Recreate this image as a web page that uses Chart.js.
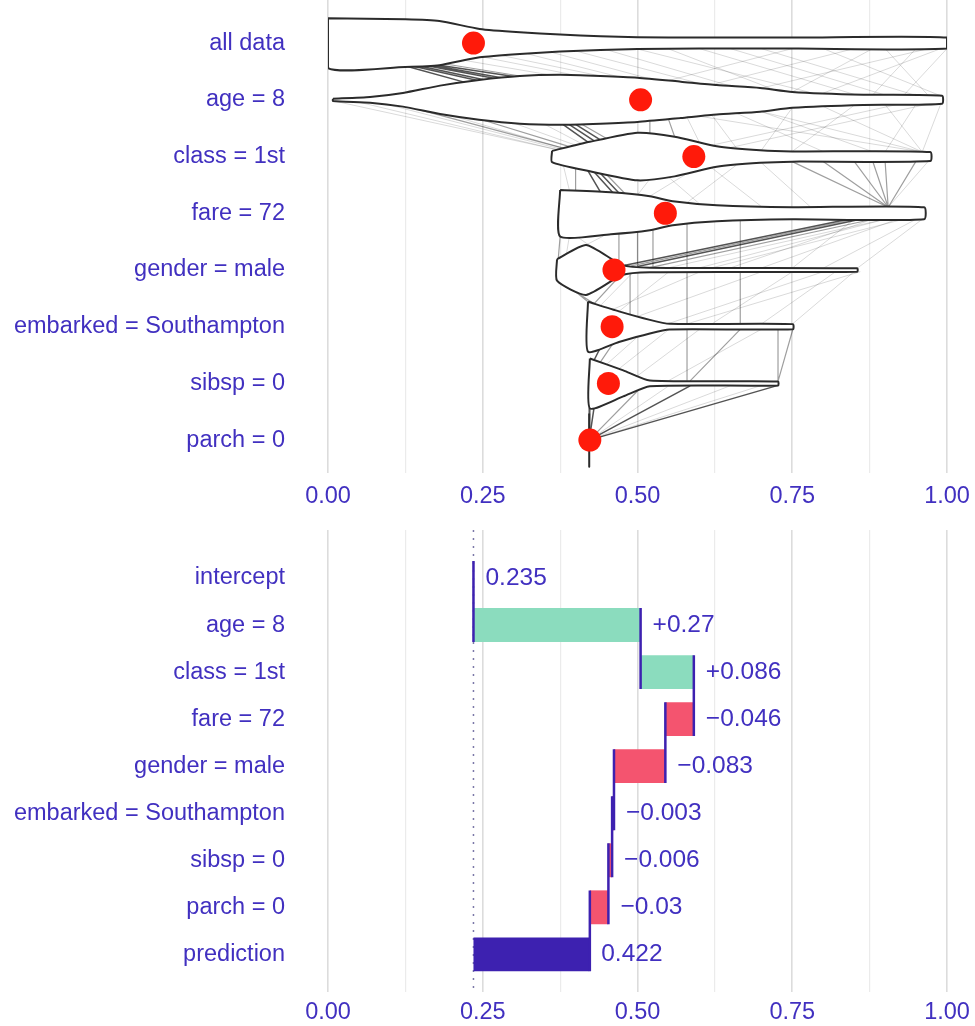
<!DOCTYPE html>
<html>
<head>
<meta charset="utf-8">
<script src="https://cdn.jsdelivr.net/npm/chart.js@4.4.1/dist/chart.umd.min.js"></script>
<style>
  body { margin: 0; background: #fff; }
  #wrap { position: relative; width: 975px; height: 1026px; }
  canvas { position: absolute; left: 0; }
  #topChart { top: 0; }
  #bottomChart { top: 520px; }
</style>
</head>
<body>
<div id="wrap">
  <canvas id="topChart" width="975" height="520"></canvas>
  <canvas id="bottomChart" width="975" height="506"></canvas>
</div>
<script>
const rowLabels = ['all data', 'age = 8', 'class = 1st', 'fare = 72', 'gender = male',
    'embarked = Southampton', 'sibsp = 0', 'parch = 0'];
const stepLabels = ['intercept', 'age = 8', 'class = 1st', 'fare = 72', 'gender = male',
    'embarked = Southampton', 'sibsp = 0', 'parch = 0', 'prediction'];
const contributions = [0.235, 0.27, 0.086, -0.046, -0.083, -0.003, -0.006, -0.03];
const prediction = 0.422;
const tickValues = [0, 0.25, 0.5, 0.75, 1];

// violin outlines: positions along x and half widths (in rows)
const violinX = [
    [0.00, 0.125, 0.18, 0.245, 0.31, 0.375, 0.44, 0.50, 0.60, 0.76, 1.00],
    [0.008, 0.068, 0.121, 0.181, 0.244, 0.31, 0.375, 0.44, 0.50, 0.57, 0.628, 0.698, 0.75, 0.865, 0.992],
    [0.362, 0.423, 0.50, 0.56, 0.628, 0.698, 0.75, 0.973],
    [0.375, 0.457, 0.52, 0.557, 0.628, 0.75, 0.963],
    [0.37, 0.417, 0.475, 0.52, 0.855],
    [0.42, 0.47, 0.52, 0.552, 0.751],
    [0.423, 0.477, 0.52, 0.727],
    [0.422]
];
const violinHalfWidth = [
    [0.44, 0.42, 0.39, 0.25, 0.19, 0.15, 0.12, 0.105, 0.097, 0.097, 0.097],
    [0.02, 0.05, 0.12, 0.25, 0.35, 0.42, 0.44, 0.42, 0.39, 0.32, 0.26, 0.21, 0.14, 0.09, 0.07],
    [0.10, 0.26, 0.42, 0.35, 0.18, 0.11, 0.09, 0.08],
    [0.41, 0.37, 0.30, 0.21, 0.14, 0.106, 0.106],
    [0.19, 0.44, 0.09, 0.04, 0.03],
    [0.44, 0.27, 0.12, 0.05, 0.045],
    [0.44, 0.23, 0.05, 0.035],
    [0.47]
];

// paths between neighbouring rows: [value above, value below, weight]
const linksAllAge = [
    [0.13, 0.22, 3], [0.14, 0.24, 3], [0.15, 0.25, 3], [0.16, 0.27, 3], [0.17, 0.28, 3], [0.18, 0.30, 3],
    [0.19, 0.31, 2], [0.22, 0.36, 1], [0.25, 0.40, 1], [0.28, 0.44, 1], [0.32, 0.47, 1], [0.36, 0.52, 1],
    [0.45, 0.65, 1], [0.55, 0.72, 1], [0.60, 0.85, 1], [0.70, 0.95, 1], [0.80, 0.99, 1], [0.90, 0.97, 1],
    [0.95, 0.88, 1], [1.00, 0.93, 1], [0.99, 0.80, 1], [0.97, 0.70, 1], [0.85, 0.62, 1], [0.75, 0.55, 1],
    [0.40, 0.60, 1], [0.50, 0.78, 1], [0.65, 0.90, 1], [0.88, 0.75, 1]
];
const linksAgeClass = [
    [0.01, 0.37, 1], [0.05, 0.37, 1], [0.10, 0.375, 1], [0.15, 0.38, 2], [0.20, 0.38, 1], [0.25, 0.39, 2],
    [0.30, 0.40, 1], [0.35, 0.41, 1], [0.38, 0.42, 3], [0.39, 0.43, 3], [0.40, 0.44, 3], [0.41, 0.45, 2],
    [0.52, 0.52, 2], [0.55, 0.56, 2], [0.58, 0.60, 1], [0.62, 0.66, 1], [0.60, 0.96, 1], [0.70, 0.96, 1],
    [0.80, 0.96, 1], [0.90, 0.96, 1], [0.99, 0.96, 1], [0.95, 0.90, 1], [0.85, 0.75, 1], [0.75, 0.70, 1],
    [0.97, 0.65, 1], [0.92, 0.62, 1], [0.66, 0.80, 1], [0.70, 0.88, 1]
];
const linksClassFare = [
    [0.42, 0.44, 3], [0.43, 0.46, 3], [0.44, 0.47, 3], [0.45, 0.48, 2], [0.40, 0.40, 2], [0.38, 0.39, 1],
    [0.75, 0.905, 2], [0.80, 0.905, 2], [0.85, 0.905, 2], [0.88, 0.905, 2], [0.90, 0.905, 2], [0.95, 0.905, 2],
    [0.97, 0.905, 1], [0.55, 0.60, 1], [0.62, 0.70, 1], [0.70, 0.78, 1], [0.66, 0.58, 1], [0.58, 0.52, 1],
    [0.52, 0.50, 1]
];
const linksFareGender = [
    [0.84, 0.48, 3], [0.86, 0.50, 3], [0.88, 0.52, 2], [0.85, 0.49, 2], [0.90, 0.55, 1], [0.90, 0.60, 1],
    [0.92, 0.70, 1], [0.95, 0.80, 1], [0.96, 0.855, 1], [0.88, 0.65, 1], [0.85, 0.75, 1], [0.93, 0.62, 1],
    [0.47, 0.47, 2], [0.50, 0.50, 2], [0.525, 0.525, 2], [0.375, 0.372, 2], [0.39, 0.385, 1],
    [0.40, 0.44, 1], [0.45, 0.41, 1], [0.58, 0.58, 2], [0.666, 0.666, 1]
];
const linksGenderEmbarked = [
    [0.38, 0.43, 2], [0.39, 0.42, 2], [0.47, 0.43, 2], [0.49, 0.44, 1], [0.488, 0.488, 2], [0.58, 0.58, 2],
    [0.666, 0.666, 2], [0.86, 0.58, 1], [0.80, 0.55, 1], [0.75, 0.62, 1], [0.70, 0.50, 1], [0.82, 0.70, 1],
    [0.85, 0.75, 1], [0.60, 0.46, 1], [0.55, 0.47, 1]
];
const linksEmbarkedSibsp = [
    [0.58, 0.58, 2], [0.727, 0.727, 2], [0.751, 0.727, 2], [0.666, 0.585, 2], [0.44, 0.43, 3],
    [0.46, 0.44, 2], [0.60, 0.50, 1], [0.70, 0.55, 1], [0.55, 0.47, 1], [0.50, 0.45, 1]
];
const linksSibspParch = [
    [0.727, 0.422, 3], [0.585, 0.422, 3], [0.50, 0.422, 2], [0.43, 0.422, 3], [0.65, 0.422, 1],
    [0.70, 0.422, 1], [0.55, 0.422, 1], [0.423, 0.422, 3]
];
const linkGaps = [linksAllAge, linksAgeClass, linksClassFare, linksFareGender,
    linksGenderEmbarked, linksEmbarkedSibsp, linksSibspParch];

const ink = '#4130c0';
const fontFamily = "'Liberation Sans', Arial, sans-serif";
Chart.defaults.font.family = fontFamily;

const cumulative = [];
contributions.reduce((acc, v) => {
    const s = acc + v;
    cumulative.push(+s.toFixed(3));
    return s;
}, 0);

const gridValues = tickValues.flatMap((v, i) => i ? [(v + tickValues[i - 1]) / 2, v] : [v]);

function xAxis(height, pad) {
    return {
        type: 'linear', min: 0, max: 1, offset: false,
        afterBuildTicks: axis => { axis.ticks = gridValues.map(v => ({ value: v })); },
        afterFit: axis => {
            axis.height = height;
            axis.paddingLeft = 0;
            axis.paddingRight = 0;
        },
        ticks: {
            autoSkip: false, maxRotation: 0, padding: pad, color: ink,
            font: { size: 23.5 },
            callback: v => tickValues.includes(v) ? v.toFixed(2) : ''
        },
        grid: {
            drawTicks: false, offset: false,
            color: c => tickValues.includes(c.tick.value) ? '#dcdcdc' : '#ebebeb',
            lineWidth: c => tickValues.includes(c.tick.value) ? 1.6 : 1.2
        },
        border: { display: false }
    };
}

function yAxis(labels, min, max) {
    return {
        type: 'linear', reverse: true, min: min, max: max, offset: false,
        afterBuildTicks: axis => { axis.ticks = labels.map((_, i) => ({ value: i })); },
        afterFit: axis => {
            axis.width = 328;
            axis.paddingTop = 0;
            axis.paddingBottom = 0;
        },
        ticks: { padding: 43, color: ink, font: { size: 23.5 }, callback: v => labels[v] },
        grid: { display: false, drawTicks: false, offset: false },
        border: { display: false }
    };
}

function hwAt(r, x) {
    const xs = violinX[r], ws = violinHalfWidth[r];
    if (x <= xs[0]) return ws[0];
    for (let i = 1; i < xs.length; i++) {
        if (x <= xs[i]) return ws[i - 1] + (ws[i] - ws[i - 1]) * (x - xs[i - 1]) / (xs[i] - xs[i - 1]);
    }
    return ws[ws.length - 1];
}

const lastRow = rowLabels.length - 1;
const linkStyles = {
    1: ['rgba(0, 0, 0, 0.15)', 1],
    2: ['rgba(0, 0, 0, 0.38)', 1.2],
    3: ['rgba(25, 25, 25, 0.75)', 1.5]
};

const linkSets = [1, 2, 3].map(w => {
    const data = [];
    linkGaps.forEach((gap, r) => {
        gap.filter(l => l[2] === w).forEach(([a, b]) => {
            const endHw = r + 1 === lastRow ? 0 : hwAt(r + 1, b);
            data.push({ x: a, y: r + hwAt(r, a) }, { x: b, y: r + 1 - endHw }, { x: null, y: null });
        });
    });
    return {
        type: 'line', data: data, order: 3,
        borderColor: linkStyles[w][0], borderWidth: linkStyles[w][1],
        pointRadius: 0, tension: 0, fill: false, spanGaps: false
    };
});

const violins = rowLabels.map((_, r) => {
    const xs = violinX[r], ws = violinHalfWidth[r];
    const pts = xs.map((x, i) => ({ x: x, y: r - ws[i] }));
    for (let i = xs.length - 1; i >= 0; i--) pts.push({ x: xs[i], y: r + ws[i] });
    pts.push(pts[0]);
    return {
        type: 'line', data: pts, order: 2,
        borderColor: '#2b2b2b', borderWidth: 2, backgroundColor: '#ffffff',
        fill: 'shape', tension: 0.2, pointRadius: 0, borderJoinStyle: 'round'
    };
});

const dots = {
    type: 'scatter', order: 1,
    data: cumulative.map((v, r) => ({ x: v, y: r })),
    pointRadius: 11.5, backgroundColor: '#ff1a0a', borderWidth: 0
};

new Chart(document.getElementById('topChart'), {
    type: 'scatter',
    data: { datasets: [dots, ...violins, ...linkSets] },
    options: {
        responsive: false,
        animation: false,
        layout: { autoPadding: false, padding: { left: 0, right: 28, top: 0, bottom: 0 } },
        plugins: { legend: { display: false }, tooltip: { enabled: false } },
        scales: {
            x: xAxis(47, 9),
            y: yAxis(rowLabels, -0.76, 7.58)
        }
    }
});

// waterfall
const steps = [[contributions[0], contributions[0]]];
for (let i = 1; i < contributions.length; i++) steps.push([cumulative[i - 1], cumulative[i]]);
steps.push([contributions[0], prediction]);

const stepText = steps.map((s, i) => {
    if (i === 0) return String(contributions[0]);
    if (i === steps.length - 1) return String(prediction);
    const v = contributions[i];
    return (v > 0 ? '+' : '\u2212') + Math.abs(v);
});

const barColors = steps.map((s, i) => {
    if (i === 0) return 'rgba(0,0,0,0)';
    if (i === steps.length - 1) return '#3d21b0';
    return contributions[i] > 0 ? '#8bdcbe' : '#f4546f';
});

const connectorData = [];
cumulative.forEach((c, i) => {
    connectorData.push({ x: c, y: i - 0.36 }, { x: c, y: i + 1.36 }, { x: null, y: null });
});

const bottomMin = -1.02, bottomMax = 8.8;

const valueLabels = {
    id: 'valueLabels',
    afterDatasetsDraw(chart) {
        const { ctx, scales: { x, y } } = chart;
        ctx.save();
        ctx.font = '24.5px ' + fontFamily;
        ctx.fillStyle = ink;
        ctx.textAlign = 'left';
        ctx.textBaseline = 'middle';
        steps.forEach((s, i) => {
            ctx.fillText(stepText[i], x.getPixelForValue(Math.max(s[0], s[1])) + 12, y.getPixelForValue(i));
        });
        ctx.restore();
    }
};

new Chart(document.getElementById('bottomChart'), {
    type: 'scatter',
    data: {
        datasets: [
            {
                type: 'line', order: 1,
                data: connectorData,
                borderColor: '#3d21b0', borderWidth: 2.5, pointRadius: 0, tension: 0, fill: false
            },
            {
                type: 'bar', indexAxis: 'y', order: 2,
                data: steps.map((s, i) => ({ y: i, x: s })),
                backgroundColor: barColors, borderWidth: 0
            },
            {
                type: 'line', order: 3,
                data: [{ x: contributions[0], y: bottomMin }, { x: contributions[0], y: bottomMax }],
                borderColor: '#7b78a8', borderWidth: 1.5, borderDash: [2, 6],
                pointRadius: 0, fill: false
            }
        ]
    },
    options: {
        responsive: false,
        animation: false,
        layout: { autoPadding: false, padding: { left: 0, right: 28, top: 10, bottom: 0 } },
        plugins: { legend: { display: false }, tooltip: { enabled: false } },
        scales: {
            x: xAxis(34, 6),
            y: yAxis(stepLabels, bottomMin, bottomMax)
        }
    },
    plugins: [valueLabels]
});
</script>
</body>
</html>
